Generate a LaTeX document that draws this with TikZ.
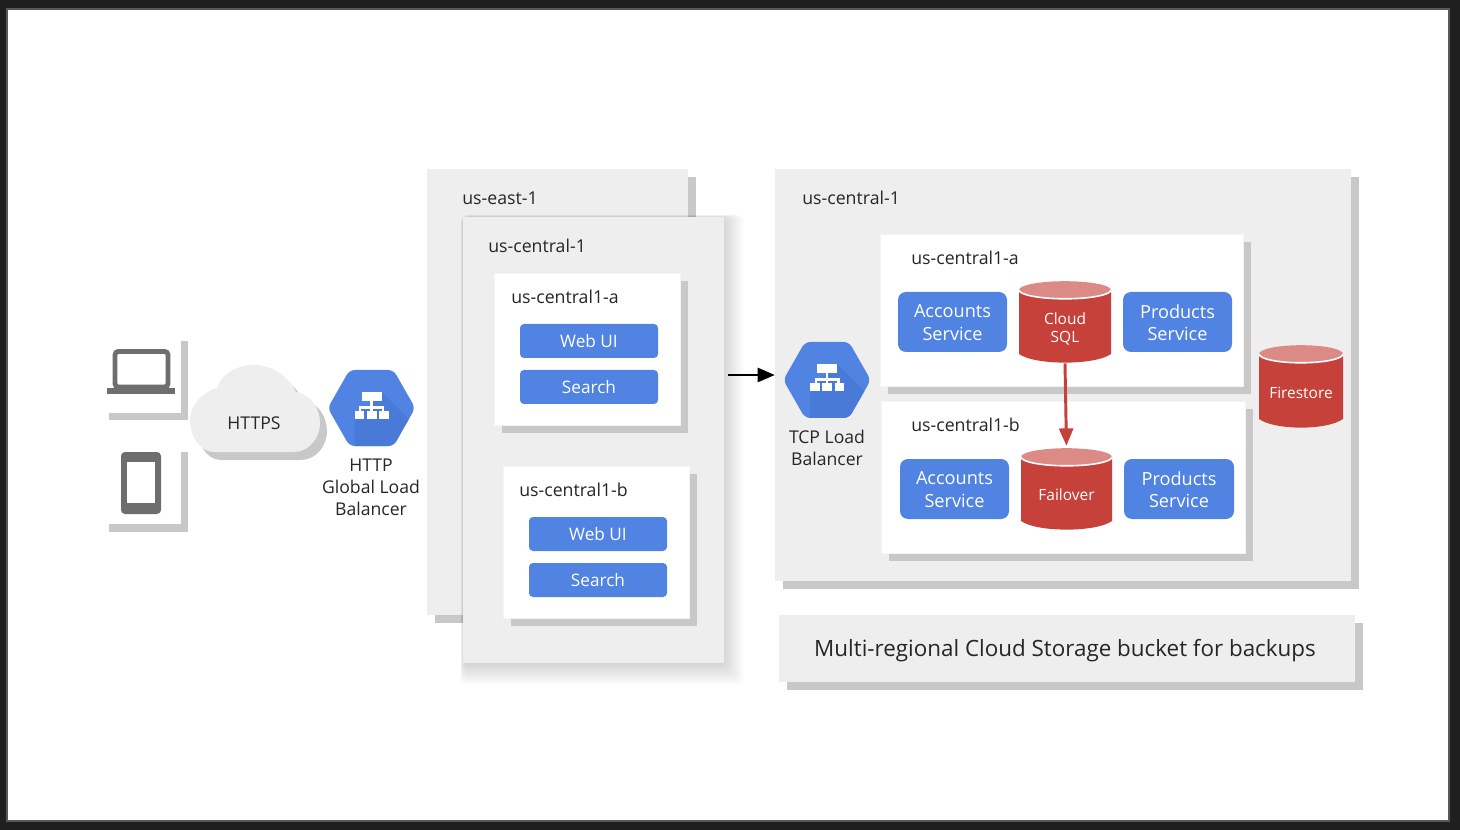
\documentclass[tikz,border=0pt]{standalone}
\usepackage{fontspec}
\setmainfont{Open Sans}
\usetikzlibrary{arrows.meta}
\definecolor{panel}{HTML}{EEEEEE}
\definecolor{shadecol}{HTML}{C8C8C8}
\definecolor{gblue}{HTML}{5083E2}
\definecolor{gbluedark}{HTML}{4A7AD8}
\definecolor{gred}{HTML}{C5413A}
\definecolor{gredtop}{HTML}{DC8A86}
\definecolor{ink}{HTML}{262626}
\definecolor{devgray}{HTML}{6E6E6E}
\newcommand{\fs}[1]{\fontsize{#1}{#1}\selectfont}
\tikzset{
  x=0.75pt,y=-0.75pt,
  panelbox/.style={fill=panel,draw=none},
  shadebox/.style={fill=shadecol,draw=none},
  whitebox/.style={fill=white,draw=white!96!black,line width=0.6pt},
  lbl/.style={text=ink,font=\fs{13.3},anchor=west,inner sep=0pt},
  captext/.style={text=ink,font=\fs{13.2},align=center,inner sep=0pt},
  btn/.style={fill=gblue,rounded corners=3pt,text=white,font=\fs{12.9},align=center,inner sep=0pt,anchor=center},
  svc/.style={btn,rounded corners=6pt,font=\fs{13.6}},
  dblbl/.style={text=white,font=\fs{11.6},align=center,inner sep=0pt},
  anchorbox/.style={inner sep=0pt,draw=none,fill=none},
  flowarrow/.style={line width=2.2pt,-{Triangle[length=13pt,width=10.5pt]}},
}
% rectangle with offset shadow: x1 y1 x2 y2 style
\newcommand{\shbox}[5]{%
  \fill[shadebox] (#1+8,#2+8) rectangle (#3+8,#4+8);
  \path[#5] (#1,#2) rectangle (#3,#4);}
% button: name, x1,y1,x2,y2, text
\newcommand{\btnat}[6]{%
  \node[btn,minimum width={(#4-#2)*0.75pt},minimum height={(#5-#3)*0.75pt}] (#1) at ({(#2+#4)/2},{(#3+#5)/2}) {\raisebox{-0.75pt}{#6}};}
\newcommand{\svcat}[6]{%
  \node[svc,minimum width={(#4-#2)*0.75pt},minimum height={(#5-#3)*0.75pt}] (#1) at ({(#2+#4)/2},{(#3+#5)/2}) {};
  \node[svc,fill=none] at ({(#2+#4)/2},{(#3+#5)/2+0.8}) {#6};}
% cylinder: name, x1,y1,x2,y2, text, text offset
\newcommand{\cyl}[7]{%
  \fill[gred] (#2,#3+9) -- (#4,#3+9) -- (#4,#5-9) .. controls (#4-16,#5+2.5) and (#2+16,#5+2.5) .. (#2,#5-9) -- cycle;
  \fill[gredtop] ({(#2+#4)/2},#3+9) ellipse [x radius={(#4-#2)/2*0.75pt},y radius=6.6pt];
  \draw[white,line width=1.2pt] (#2,#3+9) arc [start angle=180,end angle=360,x radius={(#4-#2)/2*0.75pt},y radius=6.6pt];
  \node[dblbl] at ({(#2+#4)/2},{(#3+#5)/2+#7}) {#6};
  \node[anchorbox,minimum width={(#4-#2)*0.75pt},minimum height={(#5-#3)*0.75pt}] (#1) at ({(#2+#4)/2},{(#3+#5)/2}) {};}
% hexagon load balancer: name, cx, cy
\newcommand{\hexlb}[3]{%
  \begin{scope}[shift={(#2,#3)}]
    \fill[gblue,rounded corners=4pt] (-43.7,0) -- (-22,-38) -- (22,-38) -- (43.7,0) -- (22,38) -- (-22,38) -- cycle;
    \begin{scope}
      \clip[rounded corners=4pt] (-43.7,0) -- (-22,-38) -- (22,-38) -- (43.7,0) -- (22,38) -- (-22,38) -- cycle;
      \fill[gbluedark] (-17,11) -- (10,-16) -- (60,34) -- (10,60) -- (-17,38) -- cycle;
    \end{scope}
    \fill[white] (-10,-16) rectangle (10,-7);
    \fill[white] (-1.2,-7) rectangle (1.2,3.5);
    \fill[white] (-12.5,-1.5) rectangle (12.5,0.8);
    \fill[white] (-12.5,-1.5) rectangle (-10.2,3.5);
    \fill[white] (10.2,-1.5) rectangle (12.5,3.5);
    \fill[white] (-17,3.5) rectangle (-7.5,11.5);
    \fill[white] (-5,3.5) rectangle (5,11.5);
    \fill[white] (7.5,3.5) rectangle (17,11.5);
  \end{scope}
  \node[anchorbox,minimum width=63.75pt,minimum height=56.25pt] (#1) at (#2,#3) {};}
\newcommand{\cloudpath}{(214,452) .. controls (200,452) and (190,436) .. (190,420) .. controls (190,405) and (203,392) .. (217,388) .. controls (222,373) and (238,365) .. (254,365) .. controls (272,365) and (288,376) .. (296,392) .. controls (310,394) and (320,408) .. (320,423) .. controls (320,439) and (308,452) .. (294,452) -- cycle}
\begin{document}
\begin{tikzpicture}
\useasboundingbox (0,0) rectangle (1460,830);
\fill[black!88] (0,0) rectangle (1460,830);
\fill[black!65] (6,8) rectangle (1450,822);
\fill[white] (8,10) rectangle (1448,820);

% devices
\fill[shadecol] (181,341) rectangle (188,420);
\fill[shadecol] (109,413) rectangle (188,420);
\fill[shadecol] (181,452) rectangle (188,532);
\fill[shadecol] (109,524) rectangle (188,532);
\draw[devgray,line width=3.6pt,rounded corners=2.5pt] (115,351.5) rectangle (168,387);
\fill[devgray] (107,388) rectangle (175,394);
\node[anchorbox,minimum width=51pt,minimum height=34pt] (laptop) at (141,371) {};
\fill[devgray,rounded corners=3pt] (121,452) rectangle (161,514);
\fill[white] (127,462) rectangle (155,503);
\node[anchorbox,minimum width=30pt,minimum height=46pt] (tablet) at (141,483) {};

% cloud
\begin{scope}[shift={(7,8)}]
  \fill[shadecol] \cloudpath;
\end{scope}
\fill[panel] \cloudpath;
\node[captext] (https) at (254,423) {HTTPS};

\hexlb{hlb}{371.5}{408}
\node[captext,anchor=north] (hlbtext) at (371,459) {HTTP\\[3pt]Global Load\\[3pt]Balancer};

% us-east-1 panel
\shbox{427}{169}{688}{615}{panelbox}
\node[lbl] (east) at (462,198) {us-east-1};

% us-central-1 panel with soft shadow
\foreach \d in {1,...,20}
  \fill[black,opacity=0.007,rounded corners=5pt] (463-0.12*\d,217-0.12*\d) rectangle (724+\d,665+\d);
\fill[panelbox] (463,217) rectangle (724,663);
\node[lbl] (cen) at (488,246) {us-central-1};

% left zone a
\shbox{494}{273}{680}{425}{whitebox}
\node[lbl] (la) at (511,297) {us-central1-a};
\btnat{lw}{520}{324}{658}{358}{Web UI}
\btnat{ls}{520}{370}{658}{404}{Search}

% left zone b
\shbox{503}{466}{689}{618}{whitebox}
\node[lbl] (lb) at (519,490) {us-central1-b};
\btnat{mw}{529}{517}{667}{551}{Web UI}
\btnat{ms}{529}{563}{667}{597}{Search}

% right region
\shbox{775}{169}{1351}{581}{panelbox}
\node[lbl] (rc) at (802,198) {us-central-1};

\shbox{880}{234}{1243}{386}{whitebox}
\node[lbl] (ra) at (911,258) {us-central1-a};
\svcat{aa}{898}{292}{1007}{352}{Accounts\\[3.4pt]Service}
\svcat{ap}{1123}{292}{1232}{352}{Products\\[3.4pt]Service}
\cyl{sql}{1019}{281}{1111}{363}{Cloud\\[2.5pt]SQL}{7}

\shbox{881}{401}{1245}{553}{whitebox}
\node[lbl] (rb) at (911,425) {us-central1-b};
\svcat{ba}{900}{459}{1009}{519}{Accounts\\[3.4pt]Service}
\svcat{bp}{1124}{459}{1234}{519}{Products\\[3.4pt]Service}
\cyl{fail}{1021}{448}{1112}{530}{Failover}{6}

\cyl{fire}{1259}{345}{1343}{428}{Firestore}{6}

\hexlb{tcp}{827}{380}
\node[captext,anchor=north] (tcptext) at (827,430) {TCP Load\\[3pt]Balancer};

% backup bar
\shbox{779}{615}{1355}{682}{panelbox}
\node[text=ink,font=\fs{16.8},inner sep=0pt] (bucket) at (1065,651) {Multi-regional Cloud Storage bucket for backups};

% connectors
\coordinate (arrowstart) at (728,375);
\draw[black,flowarrow,shorten >=7pt] (arrowstart) -- (tcp.west |- arrowstart);
\draw[gred,flowarrow,shorten >=1.5pt] (sql.south) -- (fail.north);
\end{tikzpicture}
\end{document}
